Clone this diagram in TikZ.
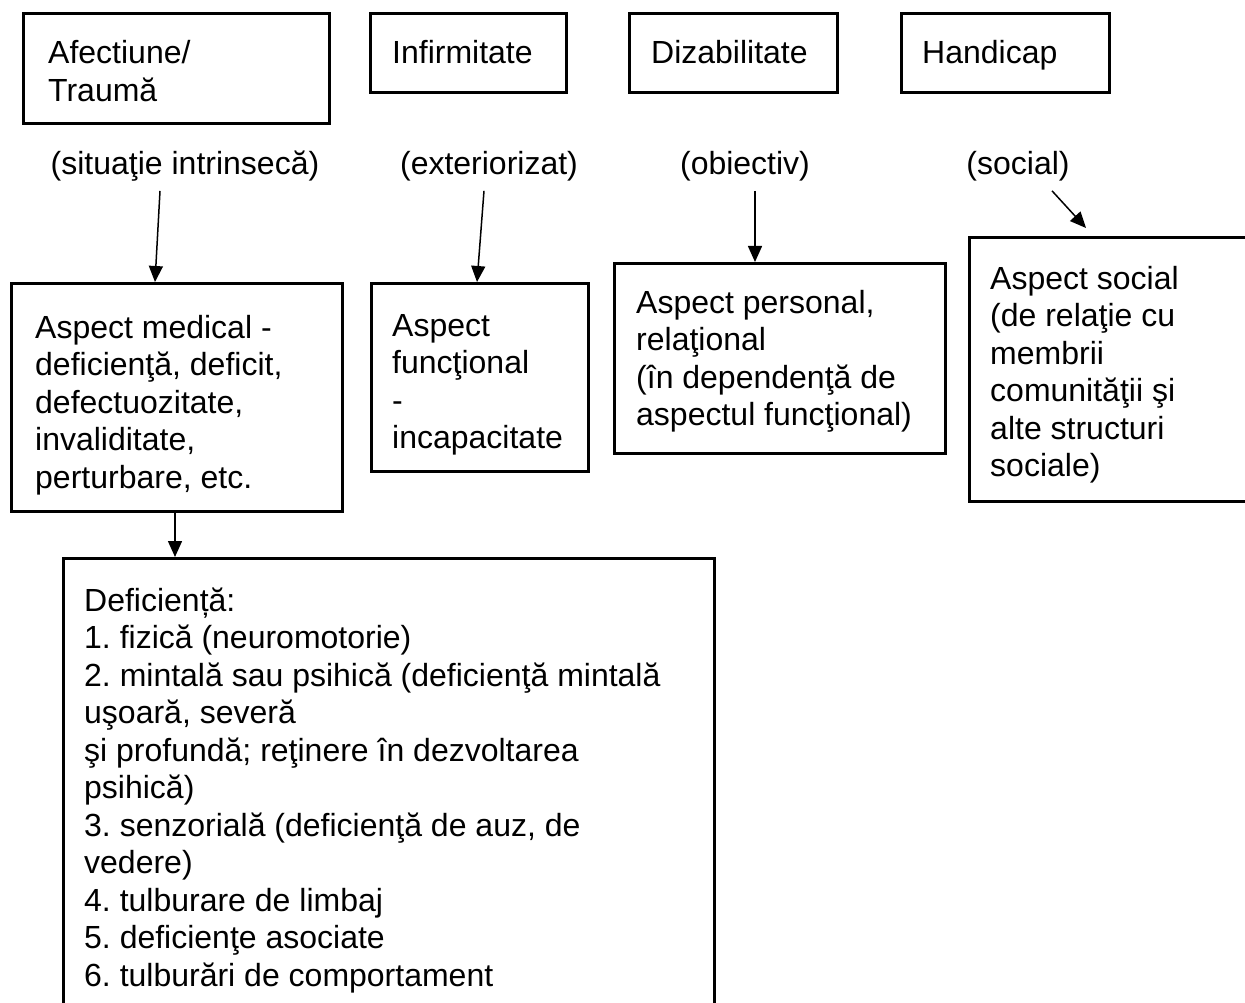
\documentclass[tikz,border=0pt]{standalone}
\usepackage{fontspec}
\setmainfont{Liberation Sans}
\usetikzlibrary{arrows.meta,calc}
\frenchspacing

\tikzset{
  boxshape/.style={draw, line width=3pt, rectangle, inner sep=0pt, anchor=north west},
  txt/.style={anchor=base west, inner sep=0pt, font=\fontsize{32}{37.5}\selectfont},
  lbl/.style={anchor=base, inner sep=0pt, font=\fontsize{32}{37.5}\selectfont},
  link/.style={line width=1.5pt, -{Triangle[length=16pt,width=14pt]}}
}
\newcommand{\lines}[2]{\parbox[t]{#1pt}{\raggedright #2}}

\begin{document}
\begin{tikzpicture}[x=1pt,y=-1pt]
\useasboundingbox (0,0) rectangle (1245,1003);
\clip (0,0) rectangle (1245,1003);

% top row
\node[boxshape, minimum width=306pt, minimum height=110pt] (afect) at (22,12) {};
\node[txt] (afectT) at (48,64) {\lines{260}{Afectiune/\\Traumă}};
\node[boxshape, minimum width=196pt, minimum height=79pt] (infirm) at (369,12) {};
\node[txt] (infirmT) at (392,64) {Infirmitate};
\node[boxshape, minimum width=208pt, minimum height=79pt] (dizab) at (628,12) {};
\node[txt] (dizabT) at (651,64) {Dizabilitate};
\node[boxshape, minimum width=208pt, minimum height=79pt] (handi) at (900,12) {};
\node[txt] (handiT) at (922,64) {Handicap};

% qualifiers
\node[lbl] (q1) at (185,175) {(situaţie intrinsecă)};
\node[lbl] (q2) at (489,175) {(exteriorizat)};
\node[lbl] (q3) at (745,175) {(obiectiv)};
\node[lbl] (q4) at (1018,175) {(social)};

% aspects
\node[boxshape, minimum width=331pt, minimum height=228pt] (med) at (10,282) {};
\node[txt] (medT) at (35,338) {\lines{300}{Aspect medical -\\deficienţă, deficit,\\defectuozitate,\\invaliditate,\\perturbare, etc.}};
\node[boxshape, minimum width=217pt, minimum height=188pt] (fun) at (370,282) {};
\node[txt] (funT) at (392,336) {\lines{200}{Aspect\\funcţional\\-\\incapacitate}};
\node[boxshape, minimum width=331pt, minimum height=190pt] (pers) at (613,262) {};
\node[txt] (persT) at (636,313) {\lines{310}{Aspect personal,\\relaţional\\(în dependenţă de\\aspectul funcţional)}};
\node[boxshape, minimum width=300pt, minimum height=264pt] (soc) at (968,236) {};
\node[txt] (socT) at (990,289) {\lines{260}{Aspect social\\(de relaţie cu\\membrii\\comunităţii şi\\alte structuri\\sociale)}};

% deficiency list
\node[boxshape, minimum width=651pt, minimum height=470pt] (defic) at (62,557) {};
\node[txt] (deficT) at (84,611) {\lines{620}{Deficiență:\\1. fizică (neuromotorie)\\2. mintală sau psihică (deficienţă mintală\\uşoară, severă\\şi profundă; reţinere în dezvoltarea\\psihică)\\3. senzorială (deficienţă de auz, de\\vedere)\\4. tulburare de limbaj\\5. deficienţe asociate\\6. tulburări de comportament}};

% connectors
\draw[link] ($(q1.south)+(-25,9)$) -- ($(med.north west)+(145,0)$);
\draw[link] ($(q2.south)+(-5,9)$) -- ($(fun.north west)+(107,0)$);
\draw[link] ($(q3.south)+(10,9)$) -- ($(pers.north west)+(142,0)$);
\draw[link] ($(q4.south)+(34,9)$) -- ($(soc.north west)+(118,-8)$);
\draw[link] ($(med.south west)+(165,0)$) -- ($(defic.north west)+(113,0)$);
\end{tikzpicture}
\end{document}
